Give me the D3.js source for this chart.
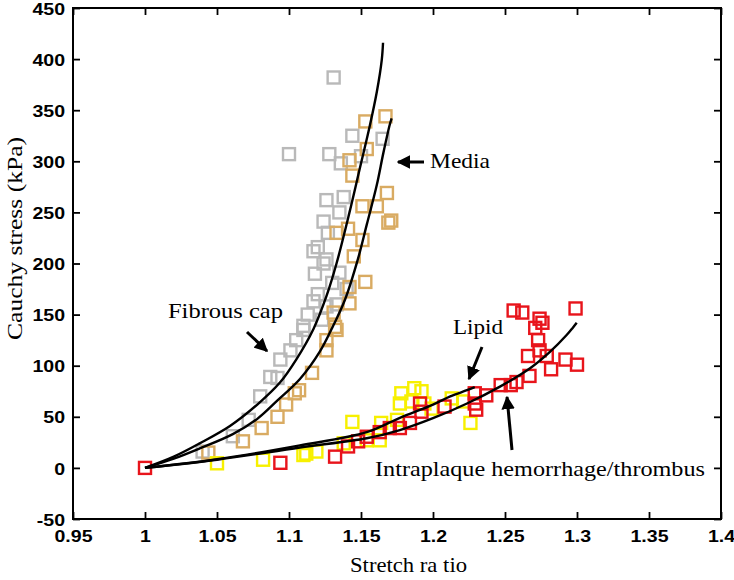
<!DOCTYPE html>
<html><head><meta charset="utf-8">
<script src="https://cdn.jsdelivr.net/npm/d3@7"></script>
<style>
body{margin:0;background:#fff;}
svg{display:block;}
</style></head>
<body>
<script>
const xTicks = [0.95,1,1.05,1.1,1.15,1.2,1.25,1.3,1.35,1.4];
const xTickLabels = ["0.95","1","1.05","1.1","1.15","1.2","1.25","1.3","1.35","1.4"];
const yTicks = [-50,0,50,100,150,200,250,300,350,400,450];
const yTickLabels = ["-50","0","50","100","150","200","250","300","350","400","450"];

const fibrousCapPts = [[1.040,16],[1.061,31],[1.072,47],[1.080,70],[1.087,89],[1.092,88],[1.094,106],[1.101,115],[1.105,125],[1.110,135],[1.110,139],[1.113,150],[1.117,163],[1.123,145],[1.126,158],[1.133,160],[1.120,170],[1.140,175],[1.130,181],[1.135,191],[1.118,190],[1.124,200],[1.126,204],[1.117,212],[1.120,216],[1.127,230],[1.124,241],[1.135,250],[1.126,262],[1.138,265],[1.100,307],[1.128,307],[1.136,298],[1.150,305],[1.144,325],[1.165,322],[1.131,382]];
const mediaPts = [[1.044,15],[1.068,26],[1.081,39],[1.092,50],[1.098,62],[1.104,73],[1.107,76],[1.116,93],[1.126,115],[1.126,125],[1.133,135],[1.132,138],[1.131,152],[1.142,161],[1.142,177],[1.153,182],[1.145,207],[1.151,223],[1.133,230],[1.141,234],[1.169,240],[1.171,242],[1.151,256],[1.161,256],[1.168,269],[1.144,286],[1.142,301],[1.154,312],[1.153,339],[1.167,344]];
const lipidPts = [[1.050,4.5],[1.082,8],[1.110,12.6],[1.112,14],[1.119,16],[1.138,24],[1.144,45],[1.154,27],[1.163,27],[1.164,44],[1.175,47],[1.177,63],[1.178,73],[1.185,65],[1.187,78],[1.192,75],[1.194,63],[1.199,58],[1.213,68],[1.221,65],[1.226,44]];
const hemorrhagePts = [[1.0,0],[1.094,5],[1.132,11],[1.141,21],[1.148,26],[1.154,30.5],[1.163,35],[1.170,39],[1.177,39],[1.184,44],[1.191,63],[1.192,55],[1.208,60],[1.229,73],[1.229,63],[1.230,57],[1.237,71],[1.247,81],[1.254,81],[1.258,84],[1.267,90],[1.282,96.5],[1.266,109.5],[1.279,109.5],[1.292,106],[1.300,101],[1.274,115],[1.273,125],[1.271,137],[1.276,142],[1.274,146],[1.256,154],[1.262,152],[1.299,156]];

const fibrousCapCurve = [[1.0,0],[1.02,11],[1.038,24],[1.059,41],[1.078,62],[1.094,84],[1.105,106],[1.117,136],[1.126,168],[1.133,200],[1.142,250],[1.149,292],[1.156,334],[1.161,368],[1.1644,399],[1.1653,416]];
const mediaCurve = [[1.0,0],[1.02,9],[1.038,19],[1.061,33],[1.078,48],[1.092,66],[1.1076,87],[1.1215,114],[1.131,140],[1.139,165],[1.148,205],[1.154,238],[1.161,277],[1.1655,308],[1.170,336],[1.1713,342]];
const lipidCurve = [[1.0,0],[1.05,8.5],[1.1076,22],[1.154,35],[1.177,49],[1.2,62],[1.212,70],[1.2236,76],[1.229,79]];
const hemorrhageCurve = [[1.0,0],[1.05,8],[1.1076,20],[1.154,29],[1.177,37],[1.2,48.6],[1.2236,63],[1.2465,79.5],[1.2674,97.5],[1.2812,113.5],[1.2928,130],[1.297,137],[1.2998,142]];

const W = 734, H = 580;
const m = {left:73, top:8, right:13, bottom:61};
const iw = W - m.left - m.right, ih = H - m.top - m.bottom;

const svg = d3.select("body").append("svg").attr("width",W).attr("height",H);
const g = svg.append("g").attr("transform",`translate(${m.left},${m.top})`);

const x = d3.scaleLinear().domain([0.95,1.4]).range([0,iw]);
const y = d3.scaleLinear().domain([-50,450]).range([ih,0]);

function drawSquares(data, color){
  g.append("g").selectAll("rect").data(data).enter().append("rect")
    .attr("x", d=>x(d[0])-6).attr("y", d=>y(d[1])-6)
    .attr("width",12).attr("height",12)
    .attr("fill","none").attr("stroke",color).attr("stroke-width",2.4);
}
drawSquares(fibrousCapPts,"#b9b9b9");
drawSquares(mediaPts,"#d9ab62");
drawSquares(lipidPts,"#f7f000");
drawSquares(hemorrhagePts,"#e8141b");

const line = d3.line().x(d=>x(d[0])).y(d=>y(d[1])).curve(d3.curveCatmullRom);
[fibrousCapCurve, mediaCurve, lipidCurve, hemorrhageCurve].forEach(c=>{
  g.append("path").attr("d",line(c)).attr("fill","none").attr("stroke","#000").attr("stroke-width",2.4);
});

// axes
const sx = 1.15;
function styleAxis(sel, hideLabels){
  sel.select(".domain").remove();
  sel.selectAll(".tick line").attr("stroke","#000").attr("stroke-width",1.8);
  sel.selectAll(".tick text")
    .attr("fill","#000")
    .style("font-family","'Liberation Sans', Arial, sans-serif")
    .style("font-weight","bold")
    .style("font-size","17px");
  if(hideLabels) sel.selectAll(".tick text").remove();
}
const xb = g.append("g").attr("transform",`translate(0,${ih})`)
  .call(d3.axisBottom(x).tickValues(xTicks).tickFormat((d,i)=>xTickLabels[i]).tickSize(-7).tickPadding(11));
styleAxis(xb,false);
xb.selectAll(".tick text").attr("transform",`scale(${sx},1)`);

const yl = g.append("g")
  .call(d3.axisLeft(y).tickValues(yTicks).tickFormat((d,i)=>yTickLabels[i]).tickSize(-7).tickPadding(8));
styleAxis(yl,false);
yl.selectAll(".tick text").attr("x",-8/sx).attr("dy","0.36em").attr("transform",`scale(${sx},1)`);

const xt = g.append("g").call(d3.axisTop(x).tickValues(xTicks).tickSize(-7));
styleAxis(xt,true);
const yr = g.append("g").attr("transform",`translate(${iw},0)`).call(d3.axisRight(y).tickValues(yTicks).tickSize(-7));
styleAxis(yr,true);

g.append("rect").attr("x",0).attr("y",0).attr("width",iw).attr("height",ih)
  .attr("fill","none").attr("stroke","#000").attr("stroke-width",2);

// labels
const serif = "'Liberation Serif','Times New Roman',serif";
svg.append("text").attr("x",350).attr("y",572).attr("textLength",117).attr("lengthAdjust","spacingAndGlyphs")
  .style("font-family",serif).style("font-size","21px").text("Stretch ra tio");
svg.append("text").attr("transform","translate(22,340) rotate(-90)").attr("textLength",203).attr("lengthAdjust","spacingAndGlyphs")
  .style("font-family",serif).style("font-size","22px").text("Cauchy stress (kPa)");

// annotations
function ann(txt, tx, ty, len){
  svg.append("text").attr("x",tx).attr("y",ty).attr("textLength",len).attr("lengthAdjust","spacingAndGlyphs")
    .style("font-family",serif).style("font-size","21px").text(txt);
}
ann("Media",430,168,60);
ann("Fibrous cap",168,318,115);
ann("Lipid",453,334,50);
ann("Intraplaque hemorrhage/thrombus",375,476,330);

svg.append("defs").append("marker").attr("id","ah").attr("viewBox","0 0 10 10")
  .attr("refX",9).attr("refY",5).attr("markerWidth",4.5).attr("markerHeight",4.5).attr("orient","auto")
  .append("path").attr("d","M0,0 L10,5 L0,10 z").attr("fill","#000");
function arrow(x1,y1,x2,y2){
  svg.append("line").attr("x1",x1).attr("y1",y1).attr("x2",x2).attr("y2",y2)
    .attr("stroke","#000").attr("stroke-width",3).attr("marker-end","url(#ah)");
}
arrow(424,162,398,162);
arrow(247,332,267,351);
arrow(482,347,469,379);
arrow(512,450,507,397);
</script>
</body></html>
